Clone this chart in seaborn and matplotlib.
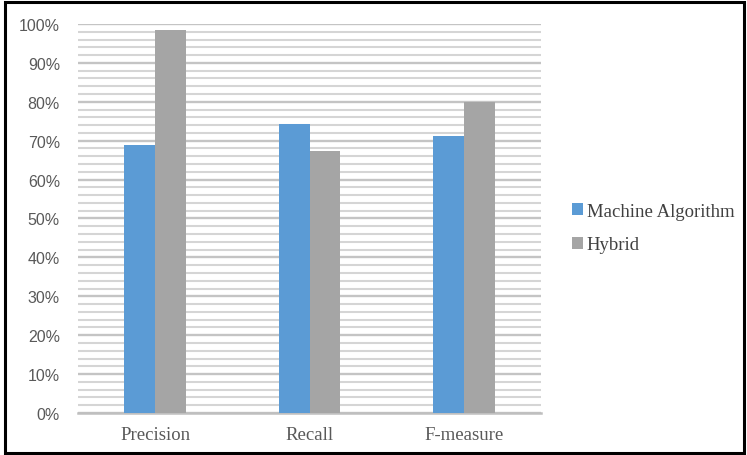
import matplotlib
matplotlib.use("Agg")
import matplotlib.pyplot as plt
from matplotlib.patches import Rectangle
from matplotlib.ticker import MultipleLocator, PercentFormatter
import seaborn as sns
import pandas as pd

categories = ["Precision", "Recall", "F-measure"]
series_names = ["Machine Algorithm", "Hybrid"]
machine_algorithm = [0.69, 0.743, 0.713]
hybrid = [0.985, 0.674, 0.80]
palette = ["#5B9BD5", "#A5A5A5"]

df = pd.DataFrame({
    "metric": categories * 2,
    "method": [series_names[0]] * 3 + [series_names[1]] * 3,
    "value": machine_algorithm + hybrid,
})

sns.set_theme(style="white")
fig = plt.figure(figsize=(7.47, 4.56), dpi=100)
ax = fig.add_axes([78 / 747, 1 - 414 / 456, 463 / 747, 389 / 456])

sns.barplot(data=df, x="metric", y="value", hue="method", order=categories,
            hue_order=series_names, palette=palette, width=0.4, gap=0,
            saturation=1, linewidth=0, ax=ax, zorder=3, legend=True)

ax.set_ylim(0, 1.0)
ax.set_xlim(-0.5, 2.5)
ax.yaxis.set_major_locator(MultipleLocator(0.1))
ax.yaxis.set_minor_locator(MultipleLocator(0.02))
ax.yaxis.set_major_formatter(PercentFormatter(1.0, decimals=0))
ax.grid(which="major", axis="y", color="#C4C4C4", linewidth=1.7, zorder=0)
ax.grid(which="minor", axis="y", color="#D5D5D5", linewidth=1.5, zorder=0)
ax.set_axisbelow(True)
for side in ["top", "right", "left"]:
    ax.spines[side].set_visible(False)
ax.spines["bottom"].set_color("#BFBFBF")
ax.spines["bottom"].set_linewidth(1.8)
ax.tick_params(axis="both", which="both", length=0)
ax.tick_params(axis="y", pad=13, labelsize=11.5, labelcolor="#595959")
ax.tick_params(axis="x", pad=9, labelcolor="#595959")
for lbl in ax.get_yticklabels():
    lbl.set_family("Liberation Sans")
for lbl in ax.get_xticklabels():
    lbl.set_family("Liberation Serif")
    lbl.set_fontsize(13.5)
ax.set_xlabel("")
ax.set_ylabel("")

handles, labels = ax.get_legend_handles_labels()
ax.legend(handles, labels, loc="center left", bbox_to_anchor=(555 / 747, 1 - 229 / 456),
          bbox_transform=fig.transFigure, frameon=False,
          prop={"family": "Liberation Serif", "size": 13.5},
          handlelength=0.6, handleheight=0.6, handletextpad=0.2,
          labelspacing=0.9, labelcolor="#404040")

fig.patches.append(Rectangle((5 / 747, 2 / 456), 739 / 747, 451 / 456,
                             transform=fig.transFigure, fill=False,
                             edgecolor="black", linewidth=2.2))

fig.savefig("out.png", dpi=100)
